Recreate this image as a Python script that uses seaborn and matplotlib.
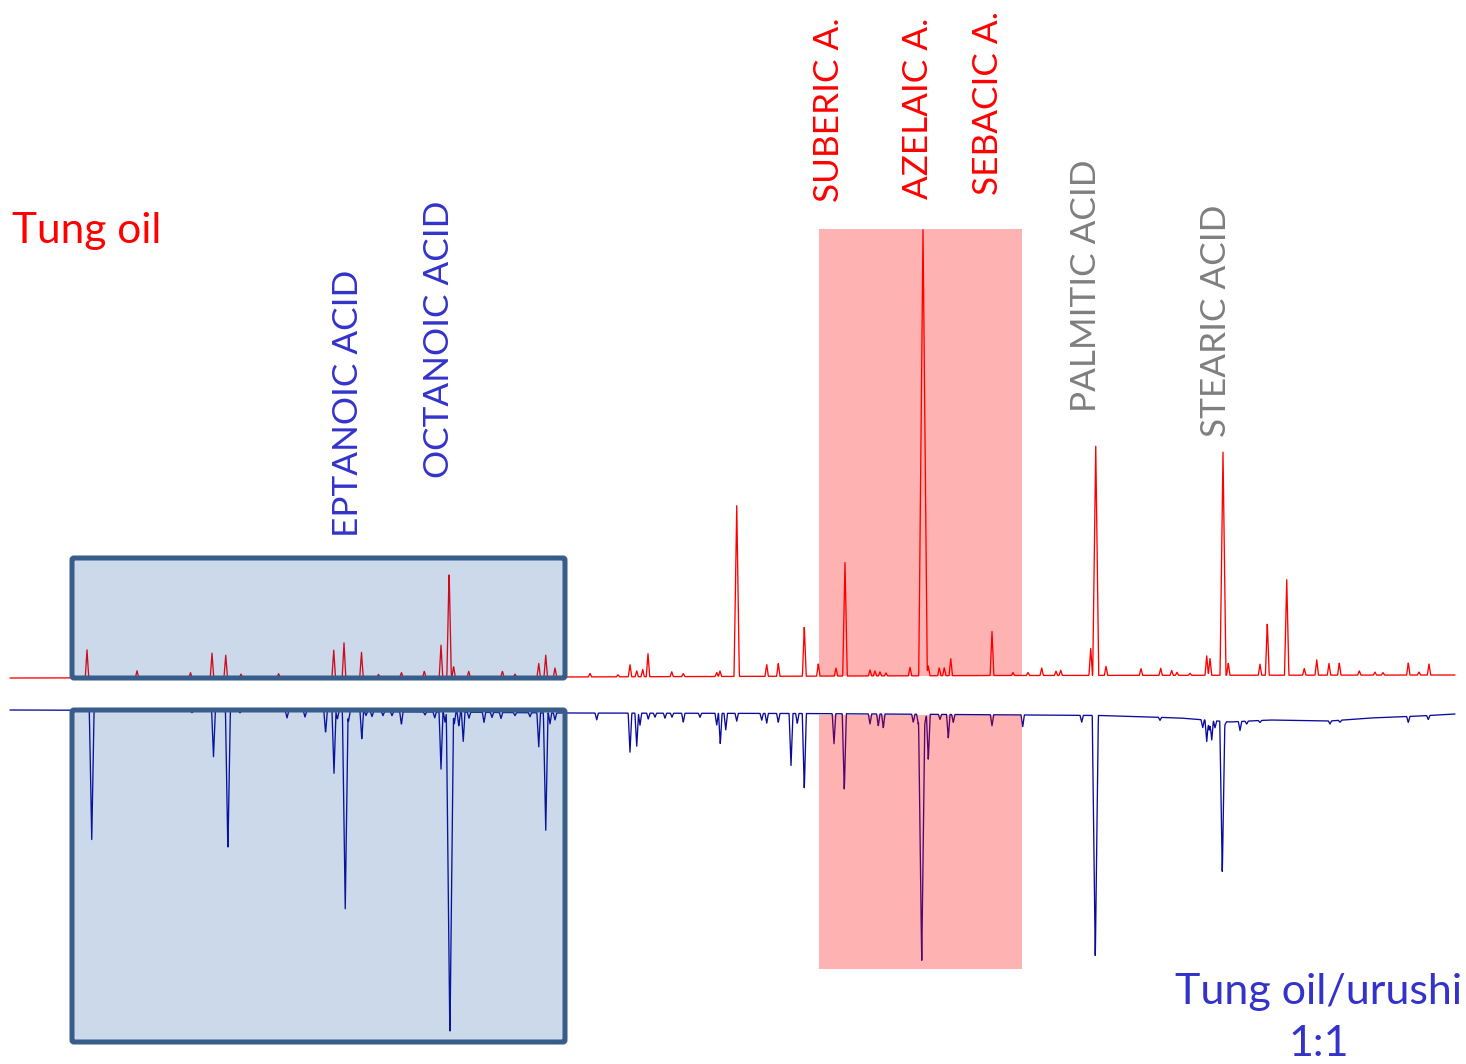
import numpy as np
import pandas as pd
import matplotlib
matplotlib.use("Agg")
import matplotlib.pyplot as plt
from matplotlib.patches import FancyBboxPatch, Rectangle
import seaborn as sns

# ---------------- data ----------------
# Tung oil trace: peak position (scan) and height (counts above baseline)
red_peak_pos = [87, 137, 190.5, 212, 225.7, 241, 278.6, 333.7, 344, 361.5, 378.5, 401.4,
                424.3, 441, 449.1, 453.6, 468.7, 502.4, 515, 538.7, 545.7, 555,
                590, 618, 630, 636.7, 642.7, 648, 671.7, 683.3, 716.7, 720, 736.7, 766.7,
                778.3, 804.3, 818.3, 836, 845, 870, 875, 880, 886, 910, 923, 928.3, 939.3,
                944.3, 950.7, 992, 1013, 1028,
                1041.7, 1056, 1060.7, 1090.7, 1095.7, 1106, 1141, 1160.7, 1171.7, 1177, 1190,
                1206.7, 1210, 1223, 1228.3, 1260, 1267.3, 1286.7, 1304.3, 1316.7, 1329,
                1339.3, 1359.3, 1375, 1383, 1408.3, 1419, 1429]
red_peak_height = [28, 7, 5, 24.5, 23, 3.5, 4, 28, 34.5, 25, 3, 5,
                   6, 32, 107, 11, 6, 6, 3, 14, 22.5, 9,
                   3.5, 2, 12, 6, 7.5, 23, 5, 3, 4, 5.5, 174, 12,
                   13, 50, 12.5, 8, 113.5, 6, 5, 4, 3, 8.5, 446, 10, 8,
                   8, 17.5, 44, 3, 3,
                   7.7, 4.3, 5.3, 27.7, 233, 9, 6.7, 7.3, 5, 3, 2,
                   20, 16.7, 223, 12.3, 11, 52.3, 97.7, 6.7, 15.7, 11.7,
                   12.3, 4.3, 3, 2.5, 12.3, 3, 11]
red_base_pos = [10, 560, 1000, 1455]
red_base_level = [678, 677, 675.5, 675]

# Tung oil / urushi 1:1 trace (drawn mirrored): peak position and depth
blue_peak_pos = [91.7, 192, 213.5, 227.9, 240, 287, 305, 325.6, 334, 337.4, 345.2, 348.5,
                 361.8, 366, 372, 383, 392, 401.4, 425, 434.7, 441, 445, 449.9, 454.3,
                 458.8, 463.2, 469, 484, 492, 501, 515, 530, 538.7, 545.7, 550, 555,
                 596.7, 630, 636.7, 640, 648.3, 655, 665, 672, 683.3, 700, 716.7, 720.3,
                 725.7, 736.7, 761.7, 766.7, 778.3, 791, 797.3, 804.3, 834, 844.3, 870,
                 878.3, 883.3, 913.3, 918.3, 921.7, 925, 928.3, 940, 948.3, 953.3, 992,
                 1022.7, 1081.7, 1095.3, 1160, 1202.7, 1206.7, 1209.3, 1211.7, 1215,
                 1222.3, 1225, 1240, 1246.7, 1260, 1330, 1340, 1408.3, 1428.3]
blue_peak_depth = [132, 2, 46, 142, 2, 7, 6, 22, 62, 8, 201, 10,
                   28, 4, 5, 4, 4, 13, 3, 6, 57, 10, 328, 12,
                   14, 30, 6, 10, 5, 6, 3, 4, 35, 120, 11, 7,
                   7, 39, 34, 12, 6, 4, 5, 4, 9, 4, 12, 31,
                   17, 8, 7, 10, 9, 52, 10, 76, 30, 77, 10,
                   12, 14, 8, 10, 250, 8, 46, 5, 24, 8, 11,
                   12, 7, 244, 3, 8, 22, 10, 20, 7,
                   153, 3, 9, 3, 2, 3, 2, 6, 4]
blue_base_pos = [10, 300, 566, 800, 1030, 1100, 1180, 1230, 1270, 1330, 1370, 1420, 1455]
blue_base_level = [710, 711, 713, 713.5, 715, 715.5, 718, 722, 720, 721, 718, 716, 714]

labels_blue = ["EPTANOIC ACID", "OCTANOIC ACID"]
labels_red = ["SUBERIC A.", "AZELAIC A.", "SEBACIC A."]
labels_gray = ["PALMITIC ACID", "STEARIC ACID"]


# ---------------- build traces ----------------
def build_trace(pos, amp, bpos, blev, sign):
    grid = np.arange(bpos[0], bpos[-1] + 0.25, 0.25)
    y = np.interp(grid, bpos, blev).astype(float)
    for p, a in zip(pos, amp):
        w = 1.6 + 0.006 * a
        y += sign * a * np.clip(1 - np.abs(grid - p) / w, 0, None)
    return pd.DataFrame({"scan": grid, "signal": y})


red_df = build_trace(red_peak_pos, red_peak_height, red_base_pos, red_base_level, -1)
blue_df = build_trace(blue_peak_pos, blue_peak_depth, blue_base_pos, blue_base_level, +1)

# ---------------- figure ----------------
sns.set_theme(style="white")
plt.rcParams["font.family"] = ["Lato", "DejaVu Sans"]

W, H = 1466, 1064
fig = plt.figure(figsize=(W / 100, H / 100), dpi=100)
ax = fig.add_axes([0, 0, 1, 1])
ax.set_xlim(0, W)
ax.set_ylim(H, 0)
ax.axis("off")

sns.lineplot(data=red_df, x="scan", y="signal", ax=ax, color="#ff0000", linewidth=0.95,
             estimator=None, sort=False, zorder=2)
sns.lineplot(data=blue_df, x="scan", y="signal", ax=ax, color="#0a0a9c", linewidth=0.95,
             estimator=None, sort=False, zorder=2)

# highlighted regions
for (x0, y0, x1, y1) in [(72, 558, 565, 678), (72, 710, 565, 1042)]:
    ax.add_patch(Rectangle((x0, y0), x1 - x0, y1 - y0, facecolor=(0, 65 / 255, 155 / 255),
                           alpha=0.2, edgecolor="none", zorder=3))
    ax.add_patch(FancyBboxPatch((x0, y0), x1 - x0, y1 - y0,
                                boxstyle="round,pad=0,rounding_size=2",
                                facecolor="none", edgecolor="#385d8a", linewidth=3.6, zorder=4))
for (x0, y0, x1, y1) in [(819, 229, 1022, 676), (819, 715, 1022, 969)]:
    ax.add_patch(Rectangle((x0, y0), x1 - x0, y1 - y0, facecolor="#ff0000", alpha=0.3,
                           edgecolor="none", zorder=3))

ax.text(12, 243, "Tung oil", color="#ff0000", fontsize=30.5, ha="left", va="baseline", zorder=5)
ax.text(1319, 1056, "Tung oil/urushi\n1:1", color="#3333cc", fontsize=31, ha="center",
        va="baseline", multialignment="center", linespacing=1.45, zorder=5)

fs = 25.3
for lab, (xc, yb) in zip(labels_blue, [(348.5, 537), (439, 478)]):
    ax.text(xc, yb, lab, color="#3333cc", fontsize=fs, rotation=90, ha="center", va="bottom")
for lab, (xc, yb) in zip(labels_red, [(829, 202), (918, 199), (988.5, 195)]):
    ax.text(xc, yb, lab, color="#ff0000", fontsize=fs, rotation=90, ha="center", va="bottom")
for lab, (xc, yb) in zip(labels_gray, [(1086, 412), (1216, 437)]):
    ax.text(xc, yb, lab, color="#7f7f7f", fontsize=fs, rotation=90, ha="center", va="bottom")

fig.savefig("out.png", dpi=100, facecolor="white")
